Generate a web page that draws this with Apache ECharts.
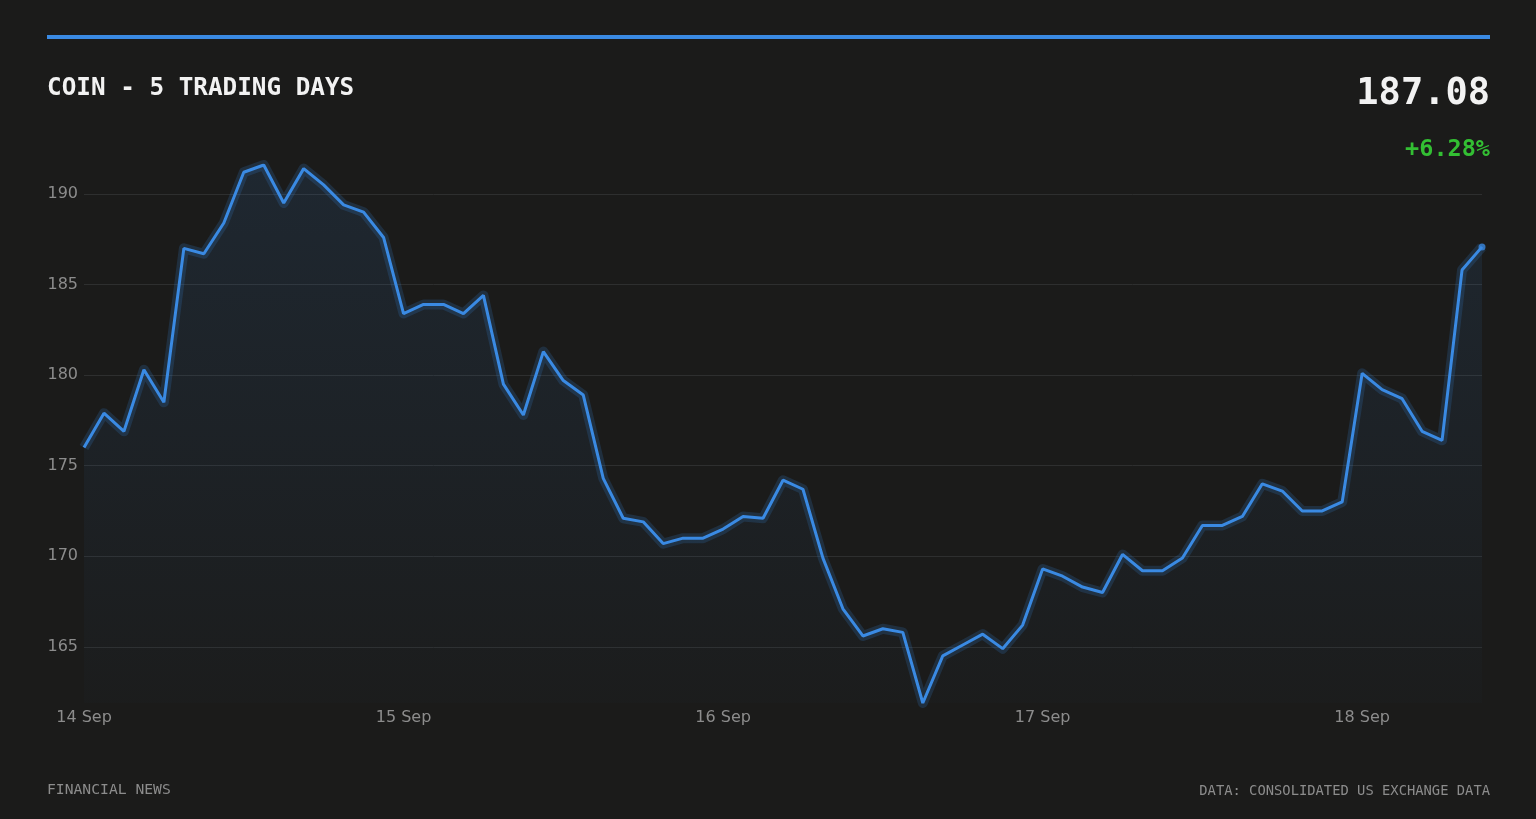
<!DOCTYPE html>
<html>
<head>
<meta charset="utf-8">
<title>COIN - 5 trading days</title>
<script src="https://cdn.jsdelivr.net/npm/echarts@6/dist/echarts.min.js"></script>
<style>
  html, body { margin: 0; padding: 0; background: #1b1b1a; }
  #chart { width: 1536px; height: 819px; }
</style>
</head>
<body>
<div id="chart"></div>
<script>
// day labels shown on the x axis, one every 16 intraday points
const dayLabels = ['14 Sep', '15 Sep', '16 Sep', '17 Sep', '18 Sep'];
const pointsPerDay = 16;

// COIN price
const prices = [
  176.0, 177.9, 176.9, 180.3, 178.5, 187.0, 186.7, 188.4,
  191.2, 191.6, 189.5, 191.4, 190.5, 189.4, 189.0, 187.6,
  183.4, 183.9, 183.9, 183.4, 184.4, 179.5, 177.8, 181.3,
  179.7, 178.9, 174.3, 172.1, 171.9, 170.7, 171.0, 171.0,
  171.5, 172.2, 172.1, 174.2, 173.7, 169.9, 167.1, 165.6,
  166.0, 165.8, 161.9, 164.5, 165.1, 165.7, 164.9, 166.2,
  169.3, 168.9, 168.3, 168.0, 170.1, 169.2, 169.2, 169.9,
  171.7, 171.7, 172.2, 174.0, 173.6, 172.5, 172.5, 173.0,
  180.1, 179.2, 178.7, 176.9, 176.4, 185.8, 187.08
];

const lastPrice = '187.08';
const changeText = '+6.28%';

const categories = prices.map((_, i) => dayLabels[Math.floor(i / pointsPerDay)] + '|' + (i % pointsPerDay));

const mono = '"DejaVu Sans Mono", monospace';
const sans = '"DejaVu Sans", sans-serif';
const blue = '#3a8ae3';

const chart = echarts.init(document.getElementById('chart'));

chart.setOption({
  backgroundColor: '#1b1b1a',
  animation: false,
  grid: { left: 84, right: 54, top: 165, bottom: 116 },
  graphic: [
    { type: 'rect', left: 47, top: 35, shape: { width: 1443, height: 4 }, style: { fill: blue } },
    { type: 'text', left: 47, top: 77, style: { text: 'COIN - 5 TRADING DAYS', fill: '#f2f2f2', font: 'bold 24.3px ' + mono } },
    { type: 'text', right: 46, top: 76, style: { text: lastPrice, fill: '#f2f2f2', font: 'bold 37px ' + mono } },
    { type: 'text', right: 46, top: 138, style: { text: changeText, fill: '#33bf33', font: 'bold 23.5px ' + mono } },
    { type: 'text', left: 47, top: 783, style: { text: 'FINANCIAL NEWS', fill: '#8c8c8c', font: '14.7px ' + mono } },
    { type: 'text', right: 46, top: 784, style: { text: 'DATA: CONSOLIDATED US EXCHANGE DATA', fill: '#8c8c8c', font: '13.8px ' + mono } }
  ],
  xAxis: {
    type: 'category',
    data: categories,
    boundaryGap: false,
    axisLine: { show: false },
    axisTick: { show: false },
    axisLabel: {
      interval: (index) => index % pointsPerDay === 0,
      formatter: (v) => v.split('|')[0],
      color: '#8c8c8c',
      fontFamily: sans,
      fontSize: 16,
      margin: 7
    },
    splitLine: { show: false }
  },
  yAxis: {
    type: 'value',
    min: 'dataMin',
    max: 'dataMax',
    splitNumber: 6,
    axisLine: { show: false },
    axisTick: { show: false },
    axisLabel: {
      color: '#8c8c8c',
      fontFamily: sans,
      fontSize: 16,
      margin: 6,
      padding: [3, 0, 0, 0],
      showMinLabel: false,
      showMaxLabel: false
    },
    splitLine: {
      lineStyle: { color: '#2e2f2f', width: 1 },
      showMinLine: false,
      showMaxLine: false
    }
  },
  series: [{
    // soft halo under the price line
    type: 'line',
    data: prices,
    showSymbol: false,
    silent: true,
    lineStyle: { color: 'rgba(58,138,227,0.18)', width: 10, join: 'round' },
    areaStyle: {
      color: new echarts.graphic.LinearGradient(0, 0, 0, 1, [
        { offset: 0, color: 'rgba(58,138,227,0.16)' },
        { offset: 1, color: 'rgba(58,138,227,0.02)' }
      ])
    }
  }, {
    type: 'line',
    data: prices,
    showSymbol: false,
    lineStyle: { color: blue, width: 3 },
    itemStyle: { color: blue }
  }, {
    type: 'scatter',
    data: prices.map((v, i) => (i === prices.length - 1 ? v : '-')),
    symbolSize: 7,
    itemStyle: { color: blue },
    silent: true
  }]
});
</script>
</body>
</html>
